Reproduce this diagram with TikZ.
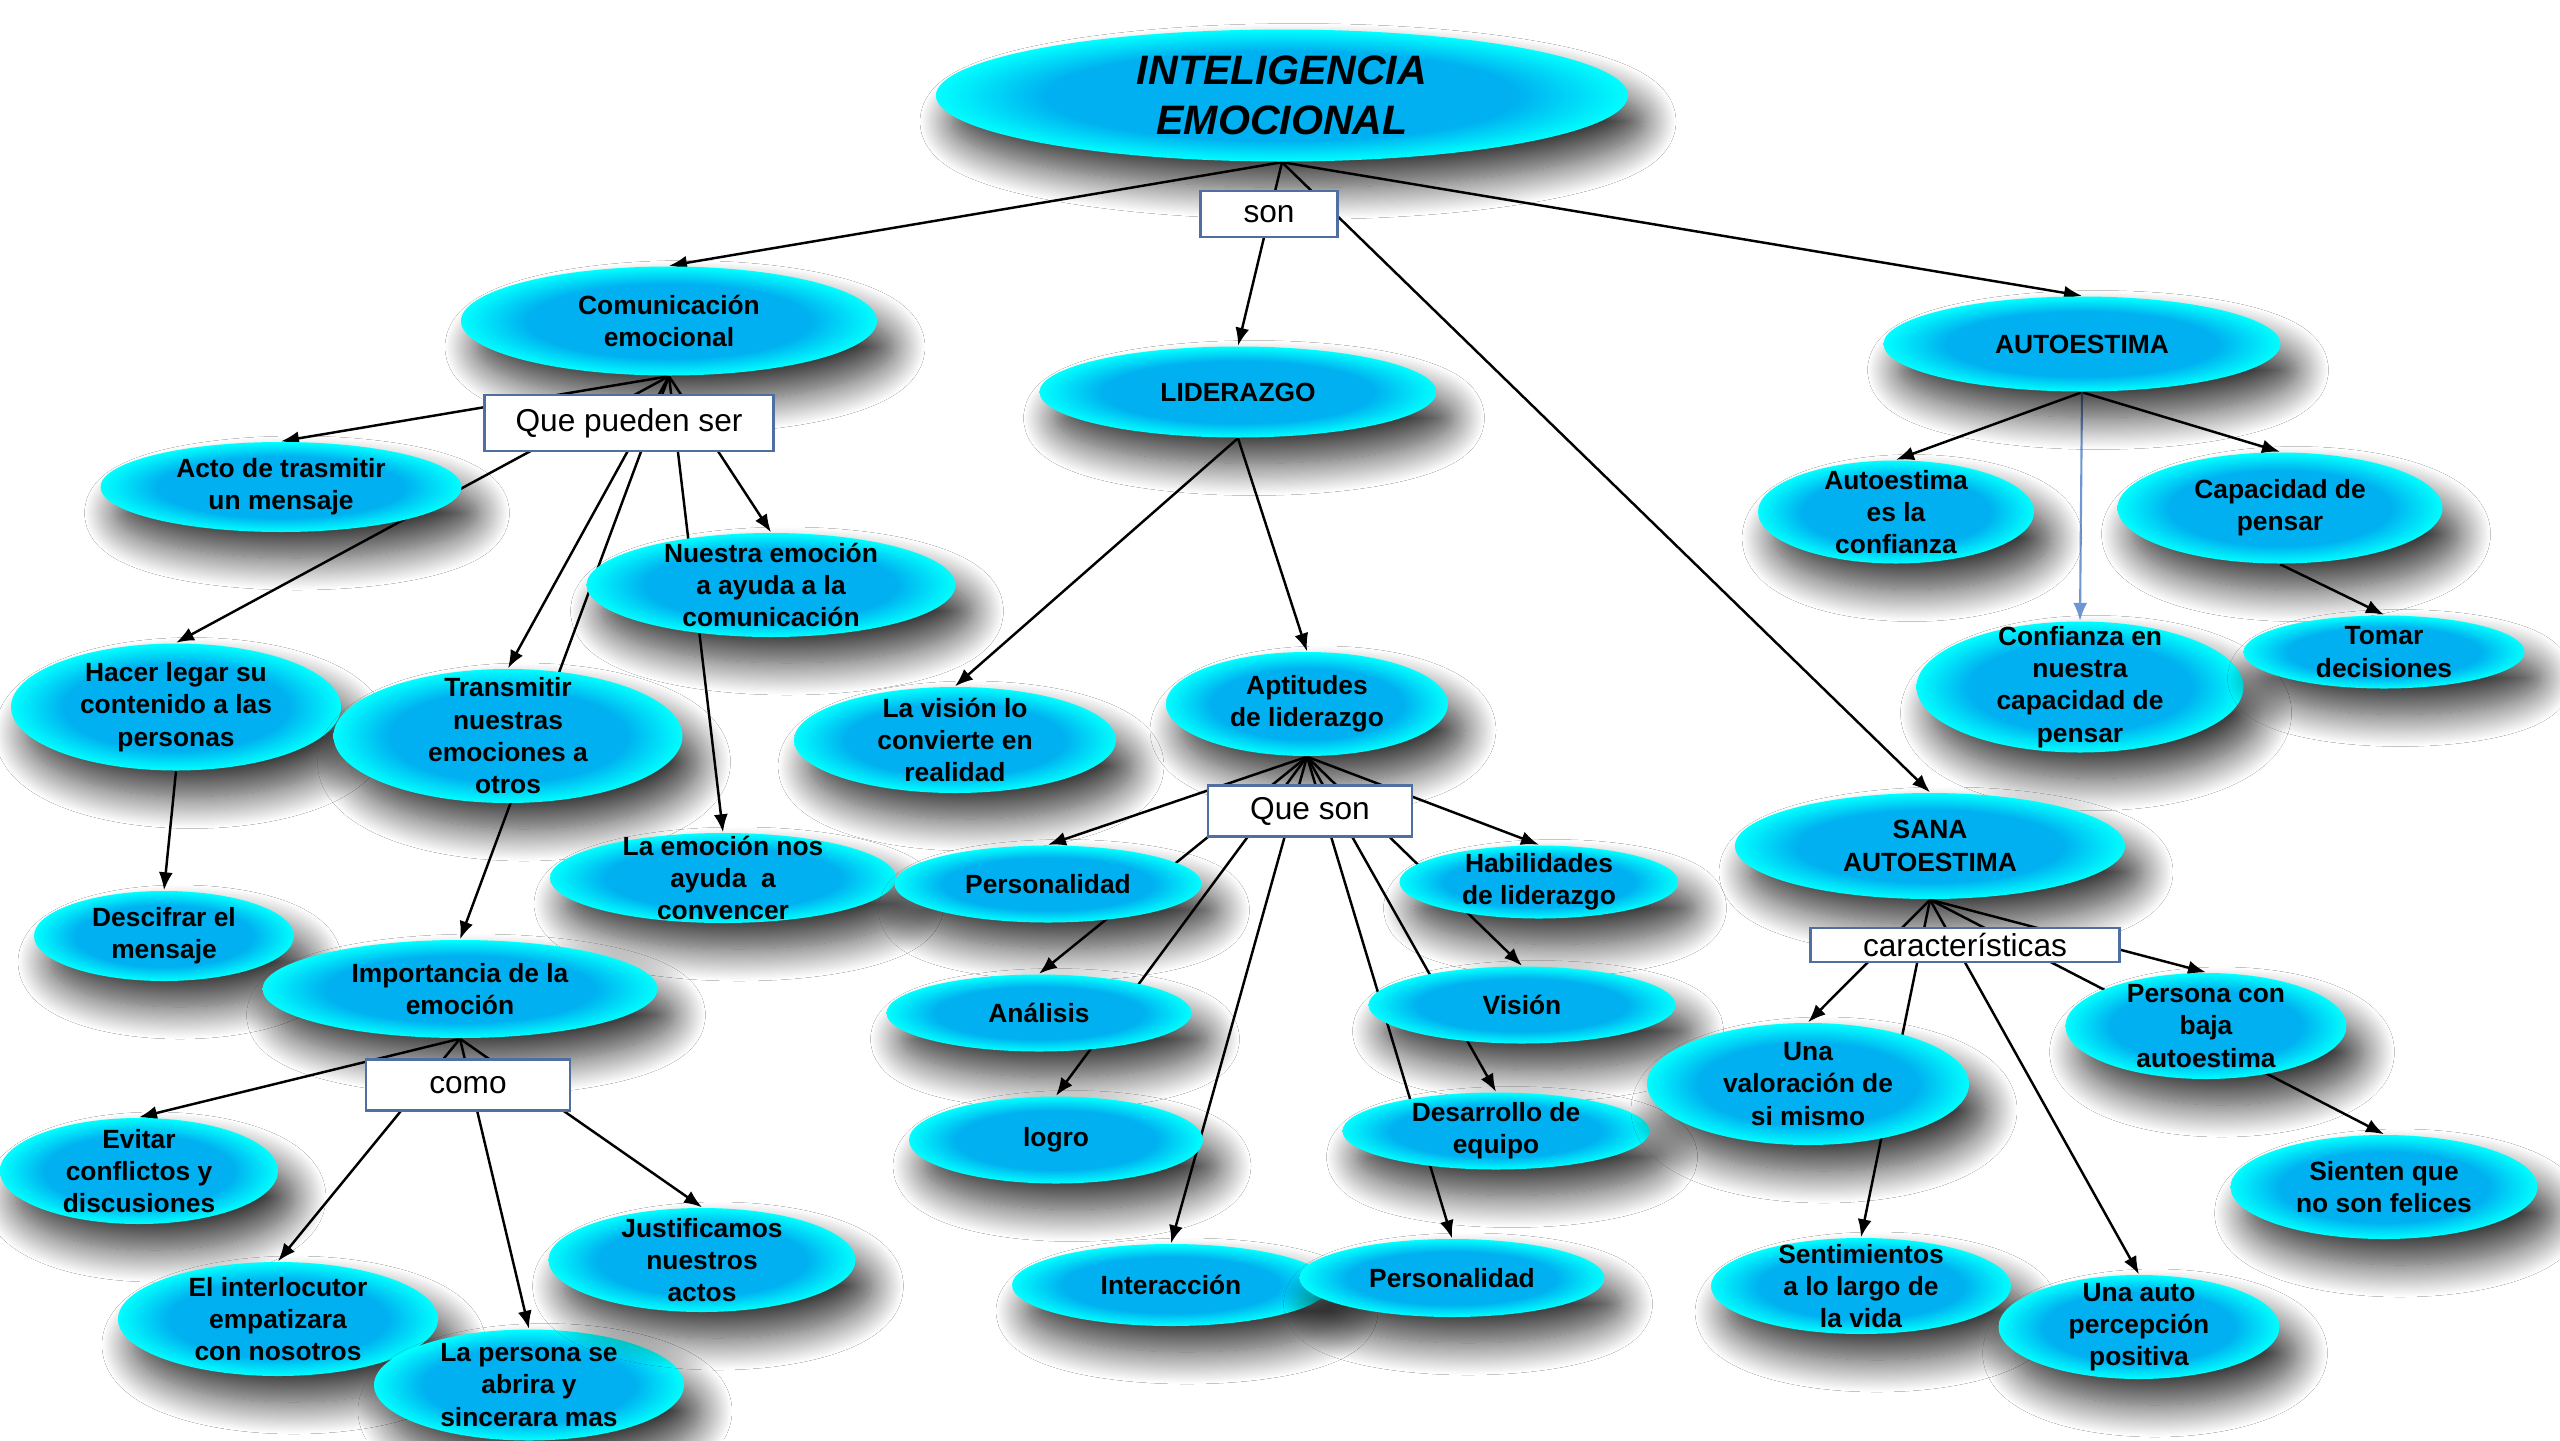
\documentclass[tikz,border=0pt]{standalone}
\usepackage{fontspec}
\setmainfont{Liberation Sans}
\usepackage{tikz}
\usetikzlibrary{shapes.geometric,shadows.blur,backgrounds,arrows.meta}

\definecolor{cmapazul}{RGB}{0,176,240}
\definecolor{cmapcian}{RGB}{0,255,255}
\definecolor{cmapborde}{RGB}{79,111,160}
\definecolor{cmaplinea}{RGB}{110,150,210}
\pgfdeclareradialshading{cmapbola}{\pgfpoint{0bp}{0bp}}{color(0bp)=(cmapazul); color(17bp)=(cmapazul); color(25bp)=(cmapcian); color(50bp)=(cmapcian)}

\tikzset{
  burbuja/.style={ellipse, shading=cmapbola, inner sep=0pt,
    blur shadow={shadow xshift=0.16cm, shadow yshift=-0.26cm, shadow blur radius=0.32cm,
      shadow blur steps=30, shadow opacity=80}},
  texto/.style={align=center, inner sep=0pt, font=\bfseries\fontsize{7.5}{9.2}\selectfont},
  enlace/.style={rectangle, draw=cmapborde, line width=0.6pt, fill=white, inner sep=0pt,
    font=\fontsize{9}{10}\selectfont},
  flecha/.style={->, line width=0.7pt},
  >={Latex[length=1.8mm,width=1.4mm]}
}

\begin{document}
\begin{tikzpicture}
  \useasboundingbox (0,0) rectangle (25.6,-14.4);

  % Concepto principal
  \node[burbuja, minimum width=6.92cm, minimum height=1.32cm,
    label={[texto, font=\bfseries\itshape\fontsize{11.7}{14.4}\selectfont]center:INTELIGENCIA\\EMOCIONAL}] (ie) at (12.82,-0.955) {};
  \node[enlace, minimum width=1.37cm, minimum height=0.46cm] (son) at (12.69,-2.14) {son};

  % Comunicacion emocional
  \node[burbuja, minimum width=4.16cm, minimum height=1.09cm, label={[texto]center:Comunicación\\emocional}] (com) at (6.69,-3.21) {};
  \node[burbuja, minimum width=3.61cm, minimum height=0.90cm, label={[texto]center:Acto de trasmitir\\un mensaje}] (acto) at (2.81,-4.87) {};
  \node[burbuja, minimum width=3.69cm, minimum height=1.04cm, label={[texto]center:Nuestra emoción\\a ayuda a la\\comunicación}] (nuestra) at (7.71,-5.85) {};
  \node[burbuja, minimum width=3.30cm, minimum height=1.27cm, label={[texto]center:Hacer legar su\\contenido a las\\personas}] (hacer) at (1.76,-7.07) {};
  \node[burbuja, minimum width=3.49cm, minimum height=1.34cm, label={[texto]center:Transmitir\\nuestras\\emociones a\\otros}] (transm) at (5.08,-7.36) {};
  \node[burbuja, minimum width=2.60cm, minimum height=0.90cm, label={[texto]center:Descifrar el\\mensaje}] (descif) at (1.64,-9.36) {};
  \node[burbuja, minimum width=3.46cm, minimum height=0.90cm, label={[texto]center:La emoción nos\\ayuda\ \ a\\convencer}] (convencer) at (7.23,-8.78) {};
  \node[burbuja, minimum width=3.95cm, minimum height=0.98cm, label={[texto]center:Importancia de la\\emoción}] (import) at (4.60,-9.89) {};
  \node[burbuja, minimum width=2.78cm, minimum height=1.06cm, label={[texto]center:Evitar\\conflictos y\\discusiones}] (evitar) at (1.39,-11.71) {};
  \node[burbuja, minimum width=3.20cm, minimum height=1.14cm, label={[texto]center:El interlocutor\\empatizara\\con nosotros}] (interloc) at (2.78,-13.19) {};
  \node[burbuja, minimum width=3.10cm, minimum height=1.11cm, label={[texto]center:La persona se\\abrira y\\sincerara mas}] (persona) at (5.29,-13.85) {};
  \node[burbuja, minimum width=3.07cm, minimum height=1.04cm, label={[texto]center:Justificamos\\nuestros\\actos}] (justif) at (7.02,-12.60) {};
  \node[enlace, minimum width=2.89cm, minimum height=0.555cm] (pueden) at (6.29,-4.23) {Que pueden ser};
  \node[enlace, minimum width=2.04cm, minimum height=0.51cm] (como) at (4.68,-10.85) {como};

  % Liderazgo
  \node[burbuja, minimum width=3.97cm, minimum height=0.91cm, label={[texto]center:LIDERAZGO}] (lid) at (12.38,-3.92) {};
  \node[burbuja, minimum width=3.22cm, minimum height=1.06cm, label={[texto]center:La visión lo\\convierte en\\realidad}] (vision) at (9.55,-7.40) {};
  \node[burbuja, minimum width=2.82cm, minimum height=1.04cm, label={[texto]center:Aptitudes\\de liderazgo}] (aptit) at (13.07,-7.04) {};
  \node[burbuja, minimum width=3.07cm, minimum height=0.77cm, label={[texto]center:Personalidad}] (persL) at (10.48,-8.84) {};
  \node[burbuja, minimum width=2.79cm, minimum height=0.73cm, label={[texto]center:Habilidades\\de liderazgo}] (habil) at (15.39,-8.82) {};
  \node[burbuja, minimum width=3.05cm, minimum height=0.77cm, label={[texto]center:Análisis}] (analisis) at (10.39,-10.13) {};
  \node[burbuja, minimum width=2.94cm, minimum height=0.87cm, label={[texto]center:logro}] (logro) at (10.56,-11.40) {};
  \node[burbuja, minimum width=3.07cm, minimum height=0.77cm, label={[texto]center:Visión}] (visionB) at (15.22,-10.05) {};
  \node[burbuja, minimum width=3.07cm, minimum height=0.77cm, label={[texto]center:Desarrollo de\\equipo}] (desarr) at (14.96,-11.31) {};
  \node[burbuja, minimum width=3.18cm, minimum height=0.82cm, label={[texto]center:Interacción}] (interac) at (11.71,-12.85) {};
  \node[burbuja, minimum width=3.05cm, minimum height=0.78cm, label={[texto]center:Personalidad}] (persR) at (14.52,-12.78) {};
  \node[enlace, minimum width=2.04cm, minimum height=0.51cm] (queson) at (13.10,-8.11) {Que son};

  % Autoestima
  \node[burbuja, minimum width=3.97cm, minimum height=0.95cm, label={[texto]center:AUTOESTIMA}] (auto) at (20.82,-3.44) {};
  \node[burbuja, minimum width=2.76cm, minimum height=1.03cm, label={[texto]center:Autoestima\\es la\\confianza}] (autoconf) at (18.96,-5.12) {};
  \node[burbuja, minimum width=3.25cm, minimum height=1.11cm, label={[texto]center:Capacidad de\\pensar}] (capac) at (22.80,-5.08) {};
  \node[burbuja, minimum width=3.27cm, minimum height=1.31cm, label={[texto]center:Confianza en\\nuestra\\capacidad de\\pensar}] (confi) at (20.80,-6.87) {};
  \node[burbuja, minimum width=2.81cm, minimum height=0.73cm, label={[texto]center:Tomar\\decisiones}] (tomar) at (23.84,-6.52) {};

  % Sana autoestima
  \node[burbuja, minimum width=3.90cm, minimum height=1.06cm, label={[texto]center:SANA\\AUTOESTIMA}] (sana) at (19.30,-8.46) {};
  \node[burbuja, minimum width=3.22cm, minimum height=1.22cm, label={[texto]center:Una\\valoración de\\si mismo}] (valor) at (18.08,-10.84) {};
  \node[burbuja, minimum width=2.81cm, minimum height=1.06cm, label={[texto]center:Persona con\\baja\\autoestima}] (persbaja) at (22.06,-10.26) {};
  \node[burbuja, minimum width=3.07cm, minimum height=1.04cm, label={[texto]center:Sienten que\\no son felices}] (sienten) at (23.84,-11.87) {};
  \node[burbuja, minimum width=3.00cm, minimum height=0.96cm, label={[texto]center:Sentimientos\\a lo largo de\\la vida}] (sentim) at (18.61,-12.86) {};
  \node[burbuja, minimum width=2.81cm, minimum height=1.04cm, label={[texto]center:Una auto\\percepción\\positiva}] (unaauto) at (21.39,-13.27) {};
  \node[enlace, minimum width=3.09cm, minimum height=0.34cm] (caract) at (19.65,-9.45) {características};

  % Conectores (debajo de las burbujas)
  \begin{scope}[on background layer]
    \fill[white] (0,0) rectangle (25.6,-14.4);
    \foreach \a/\b in {ie/com, ie/lid, ie/auto, ie/sana,
                       com/acto, com/hacer, com/transm, com/import, com/nuestra, com/convencer,
                       hacer/descif,
                       import/evitar, import/interloc, import/persona, import/justif,
                       lid/vision, lid/aptit,
                       aptit/persL, aptit/analisis, aptit/logro, aptit/interac,
                       aptit/persR, aptit/desarr, aptit/visionB, aptit/habil,
                       auto/autoconf, auto/capac, capac/tomar,
                       sana/valor, sana/sentim, sana/unaauto, sana/persbaja, sana/sienten}
      \draw[flecha] (\a.south) -- (\b.north);
    \draw[flecha, cmaplinea, line width=0.6pt] (auto.south) -- (confi.north);
  \end{scope}

\end{tikzpicture}
\end{document}
